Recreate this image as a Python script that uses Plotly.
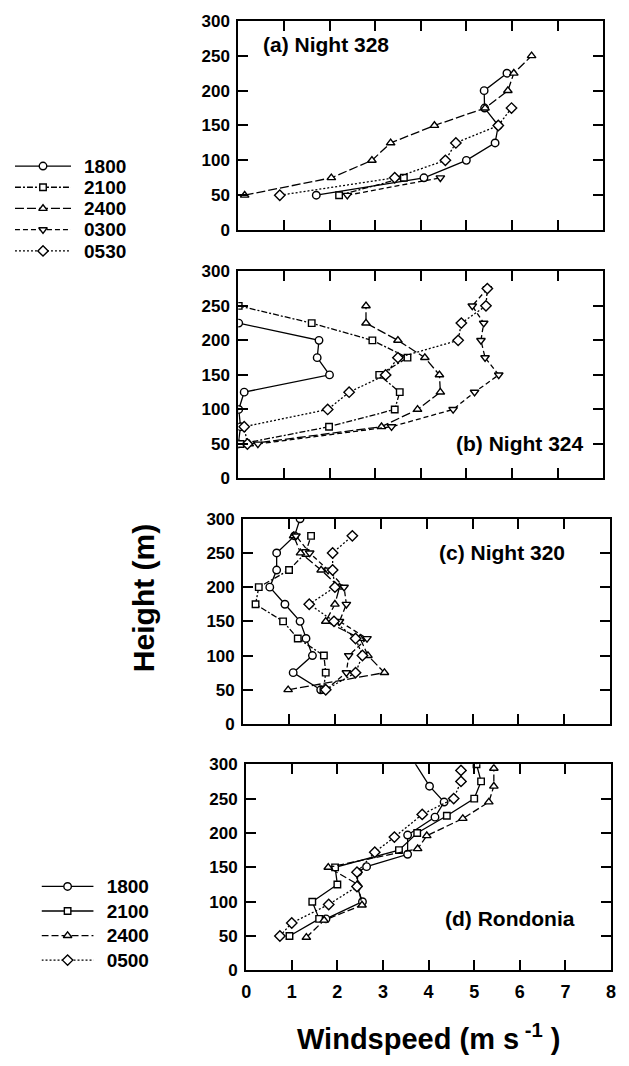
import plotly.graph_objects as go

# page is 629x1066; the html body has an 8px margin, so the figure is 16px smaller
PAGE_W, PAGE_H = 629, 1066
OFF = 8
W, H = PAGE_W - 2 * OFF, PAGE_H - 2 * OFF

# ---------------- data ----------------
# (a) Night 328
a_1800_h = [50, 75, 100, 125, 150, 175, 200, 225]
a_1800_v = [1.71, 4.07, 5.0, 5.63, 5.7, 5.4, 5.39, 5.89]
a_2100_h = [50, 75]
a_2100_v = [2.21, 3.63]
a_2400_h = [50, 75, 100, 125, 150, 175, 200, 225, 250]
a_2400_v = [0.14, 2.04, 2.93, 3.34, 4.3, 5.41, 5.91, 6.04, 6.43]
a_0300_h = [50, 75]
a_0300_v = [2.39, 4.43]
a_0530_h = [50, 75, 100, 125, 150, 175]
a_0530_v = [0.91, 3.43, 4.54, 4.77, 5.7, 5.99]

# (b) Night 324
b_1800_h = [50, 75, 100, 125, 150, 175, 200, 225]
b_1800_v = [0.0, 0.05, 0.01, 0.13, 2.0, 1.73, 1.77, 0.01]
b_2100_h = [50, 75, 100, 125, 150, 175, 200, 225, 250]
b_2100_v = [0.05, 1.99, 3.43, 3.54, 3.09, 3.71, 2.94, 1.61, 0.01]
b_2400_h = [50, 75, 100, 125, 150, 175, 200, 225, 250]
b_2400_v = [0.24, 3.14, 3.93, 4.43, 4.41, 4.09, 3.5, 2.8, 2.8]
b_0300_h = [50, 75, 100, 125, 150, 175, 200, 225, 250, 275]
b_0300_v = [0.43, 3.36, 4.71, 5.18, 5.71, 5.41, 5.32, 5.38, 5.13, 5.46]
b_0530_h = [50, 75, 100, 125, 150, 175, 200, 225, 250, 275]
b_0530_v = [0.2, 0.13, 1.96, 2.43, 3.23, 3.5, 4.82, 4.89, 5.43, 5.46]

# (c) Night 320
c_1800_h = [50, 75, 100, 125, 150, 175, 200, 225, 250, 275, 300]
c_1800_v = [1.69, 1.09, 1.51, 1.37, 1.24, 0.91, 0.58, 0.73, 0.73, 1.12, 1.24]
c_2100_h = [50, 75, 100, 125, 150, 175, 200, 225, 250, 275]
c_2100_v = [1.75, 1.8, 1.76, 1.19, 0.87, 0.27, 0.34, 1.0, 1.36, 1.48]
c_2400_h = [50, 75, 100, 125, 150, 175, 200, 225, 250, 275]
c_2400_v = [0.98, 3.08, 2.72, 2.55, 1.8, 2.0, 2.1, 1.7, 1.25, 1.1]
c_0300_h = [50, 75, 100, 125, 150, 175, 200, 225, 250, 275]
c_0300_v = [1.8, 2.25, 2.3, 2.7, 2.1, 2.25, 2.2, 1.85, 1.45, 1.15]
c_0530_h = [50, 75, 100, 125, 150, 175, 200, 225, 250, 275]
c_0530_v = [1.8, 2.45, 2.6, 2.45, 1.98, 1.44, 2.0, 1.95, 1.95, 2.38]

# (d) Rondonia
d_1800_h = [75, 100, 122, 143, 151, 169, 197, 223, 245, 268, 310]
d_1800_v = [1.75, 2.55, 2.43, 2.45, 2.64, 3.54, 3.54, 4.14, 4.34, 4.02, 3.62]
d_2100_h = [50, 75, 100, 125, 150, 175, 200, 225, 250, 275, 300]
d_2100_v = [0.95, 1.6, 1.45, 2.0, 1.95, 3.35, 3.75, 4.4, 5.0, 5.15, 5.05]
d_2400_h = [48, 73, 95, 125, 150, 177, 196, 221, 245, 268, 294]
d_2400_v = [1.32, 1.71, 2.54, 2.45, 1.8, 3.76, 3.96, 4.75, 5.32, 5.43, 5.43]
d_0500_h = [50, 69, 96, 122, 143, 172, 194, 227, 250, 275, 291]
d_0500_v = [0.74, 1.0, 1.81, 2.43, 2.43, 2.82, 3.25, 3.86, 4.55, 4.71, 4.71]

panel_labels = ["(a) Night 328", "(b) Night 324", "(c) Night 320", "(d) Rondonia"]
night_keys = ["1800", "2100", "2400", "0300", "0530"]
rond_keys = ["1800", "2100", "2400", "0500"]
x_ticks = [0, 1, 2, 3, 4, 5, 6, 7, 8]
y_ticks = [0, 50, 100, 150, 200, 250, 300]

# ---------------- styles ----------------
FONT = "Liberation Sans, Arial, sans-serif"
night_style = {
    "1800": dict(dash="solid", symbol="circle", size=7.5),
    "2100": dict(dash="6px,2px,2px,2px", symbol="square", size=6.5),
    "2400": dict(dash="9px,3px", symbol="triangle-up", size=7.5),
    "0300": dict(dash="5px,3px", symbol="triangle-down", size=7.5),
    "0530": dict(dash="2px,2px", symbol="diamond", size=8),
}
rond_style = {
    "1800": dict(dash="solid", symbol="circle", size=7.5),
    "2100": dict(dash="solid", symbol="square", size=6.5),
    "2400": dict(dash="7px,3px", symbol="triangle-up", size=7.5),
    "0500": dict(dash="2px,2px", symbol="diamond", size=8),
}

panels = [
    (panel_labels[0], night_style, {"1800": (a_1800_v, a_1800_h), "2100": (a_2100_v, a_2100_h),
                                    "2400": (a_2400_v, a_2400_h), "0300": (a_0300_v, a_0300_h),
                                    "0530": (a_0530_v, a_0530_h)}),
    (panel_labels[1], night_style, {"1800": (b_1800_v, b_1800_h), "2100": (b_2100_v, b_2100_h),
                                    "2400": (b_2400_v, b_2400_h), "0300": (b_0300_v, b_0300_h),
                                    "0530": (b_0530_v, b_0530_h)}),
    (panel_labels[2], night_style, {"1800": (c_1800_v, c_1800_h), "2100": (c_2100_v, c_2100_h),
                                    "2400": (c_2400_v, c_2400_h), "0300": (c_0300_v, c_0300_h),
                                    "0530": (c_0530_v, c_0530_h)}),
    (panel_labels[3], rond_style, {"1800": (d_1800_v, d_1800_h), "2100": (d_2100_v, d_2100_h),
                                   "2400": (d_2400_v, d_2400_h), "0500": (d_0500_v, d_0500_h)}),
]

# page-pixel boxes of the four panels: (left, right, top, bottom)
boxes = [(237, 608, 12, 225), (237, 608, 267, 478), (242, 615, 519, 728), (245, 616, 769, 979)]
# label placement inside each panel (data coords, anchor)
label_pos = [(0.5, 266, "left"), (7.6, 50, "right"), (7.05, 250, "right"), (7.25, 75, "right")]


def px_x(p):
    return (p - OFF) / W


def px_y(p):
    return 1 - (p - OFF) / H


fig = go.Figure()
layout = dict(width=W, height=H, autosize=False, margin=dict(l=0, r=0, t=0, b=0),
              paper_bgcolor="white", plot_bgcolor="white", showlegend=False,
              font=dict(family=FONT, color="black"))
annotations = []

for i, (label, style, series) in enumerate(panels):
    n = i + 1
    xa = "x" if n == 1 else f"x{n}"
    ya = "y" if n == 1 else f"y{n}"
    l, r, t, b = boxes[i]
    common = dict(showline=True, linewidth=2, linecolor="black", mirror="ticks",
                  ticks="inside", ticklen=10, tickwidth=2, tickcolor="black",
                  showgrid=False, zeroline=False, fixedrange=True)
    layout["xaxis" if n == 1 else f"xaxis{n}"] = dict(
        common, domain=[px_x(l), px_x(r)], range=[0, 8], tickvals=x_ticks,
        anchor=ya, showticklabels=(n == 4), ticklabelstandoff=4,
        ticklabeloverflow="allow",
        tickfont=dict(family=FONT, size=18, weight="bold"))
    layout["yaxis" if n == 1 else f"yaxis{n}"] = dict(
        common, domain=[px_y(b), px_y(t)], range=[0, 300], tickvals=y_ticks,
        anchor=xa, ticklabelstandoff=3, ticklabeloverflow="allow",
        tickfont=dict(family=FONT, size=17, weight="bold"))
    for key, (vals, hts) in series.items():
        st = style[key]
        fig.add_trace(go.Scatter(
            x=vals, y=hts, xaxis=xa, yaxis=ya, mode="lines+markers", name=key,
            line=dict(color="black", width=1.3, dash=st["dash"]),
            marker=dict(symbol=st["symbol"], size=st["size"], color="white",
                        line=dict(color="black", width=1.4)),
            cliponaxis=True))
    lx, ly, anc = label_pos[i]
    annotations.append(dict(x=lx, y=ly, xref=xa, yref=ya, text=label, showarrow=False,
                            xanchor=anc, yanchor="middle",
                            font=dict(family=FONT, size=21, weight="bold")))

# ---------------- keys (drawn on their own small axes) ----------------
keys = [
    (5, night_keys, night_style, (10, 67), (149, 257)),
    (6, rond_keys, rond_style, (37, 90), (881, 981)),
]
for n, names, style, (kl, kr), (kt, kb) in keys:
    layout[f"xaxis{n}"] = dict(domain=[px_x(kl), px_x(kr)], range=[0, 1], visible=False,
                               anchor=f"y{n}", fixedrange=True)
    layout[f"yaxis{n}"] = dict(domain=[px_y(kb), px_y(kt)], type="category",
                               categoryorder="array", categoryarray=names,
                               tickmode="array", tickvals=names, ticktext=names,
                               range=[len(names) - 0.5, -0.5], side="right", anchor=f"x{n}",
                               showline=False, showgrid=False, zeroline=False, ticks="",
                               ticklabelstandoff=12, fixedrange=True,
                               tickfont=dict(family=FONT, size=19, weight="bold"))
    for name in names:
        st = style[name]
        fig.add_trace(go.Scatter(x=[0, 1], y=[name, name], xaxis=f"x{n}", yaxis=f"y{n}",
                                 mode="lines", line=dict(color="black", width=1.3, dash=st["dash"]),
                                 hoverinfo="skip"))
        fig.add_trace(go.Scatter(x=[0.5], y=[name], xaxis=f"x{n}", yaxis=f"y{n}",
                                 mode="markers", hoverinfo="skip",
                                 marker=dict(symbol=st["symbol"], size=st["size"], color="white",
                                             line=dict(color="black", width=1.4))))

# axis titles
annotations.append(dict(x=px_x(431), y=px_y(1047), xref="paper", yref="paper",
                        text="Windspeed (m s<sup> -1</sup> )", showarrow=False,
                        xanchor="center", yanchor="middle",
                        font=dict(family=FONT, size=29, weight="bold")))
annotations.append(dict(x=px_x(140), y=px_y(600), xref="paper", yref="paper",
                        text="Height (m)", showarrow=False, textangle=-90,
                        xanchor="center", yanchor="middle",
                        font=dict(family=FONT, size=30, weight="bold")))
layout["annotations"] = annotations

fig.update_layout(**layout)
fig.write_html("out.html")
